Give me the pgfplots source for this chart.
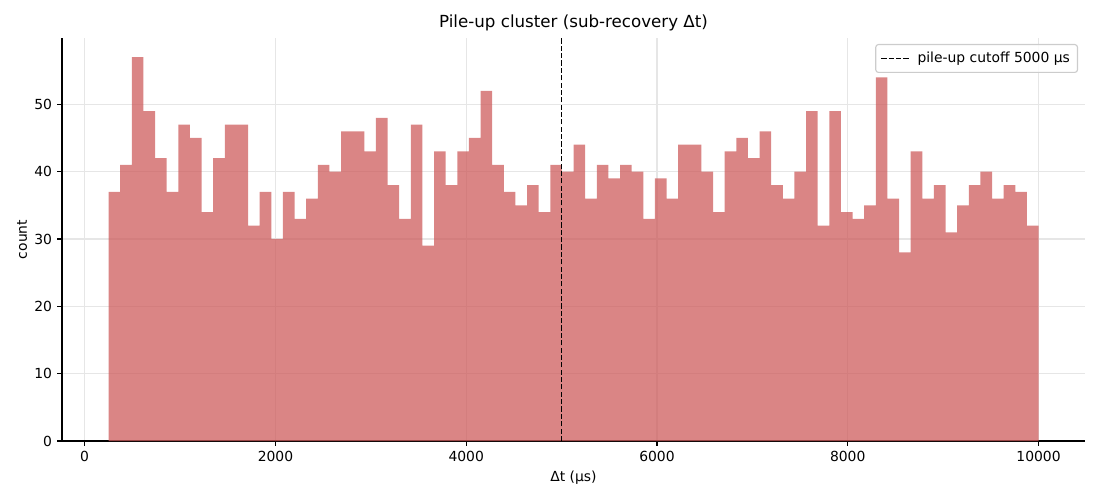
\documentclass[border=0pt]{standalone}
\usepackage{fontspec}
\setmainfont{DejaVu Sans}
\usepackage{pgfplots}
\pgfplotsset{compat=1.18}
\definecolor{barc}{RGB}{205,92,92}
\definecolor{gridc}{RGB}{230,230,230}
\definecolor{legc}{RGB}{204,204,204}
\pgfplotstableread{
x y
250 37
371.875 41
493.75 57
615.625 49
737.5 42
859.375 37
981.25 47
1103.125 45
1225 34
1346.875 42
1468.75 47
1590.625 47
1712.5 32
1834.375 37
1956.25 30
2078.125 37
2200 33
2321.875 36
2443.75 41
2565.625 40
2687.5 46
2809.375 46
2931.25 43
3053.125 48
3175 38
3296.875 33
3418.75 47
3540.625 29
3662.5 43
3784.375 38
3906.25 43
4028.125 45
4150 52
4271.875 41
4393.75 37
4515.625 35
4637.5 38
4759.375 34
4881.25 41
5003.125 40
5125 44
5246.875 36
5368.75 41
5490.625 39
5612.5 41
5734.375 40
5856.25 33
5978.125 39
6100 36
6221.875 44
6343.75 44
6465.625 40
6587.5 34
6709.375 43
6831.25 45
6953.125 42
7075 46
7196.875 38
7318.75 36
7440.625 40
7562.5 49
7684.375 32
7806.25 49
7928.125 34
8050 33
8171.875 35
8293.75 54
8415.625 36
8537.5 28
8659.375 43
8781.25 36
8903.125 38
9025 31
9146.875 35
9268.75 38
9390.625 40
9512.5 36
9634.375 38
9756.25 37
9878.125 32
10000 32
}\histdata
\begin{document}
\begin{tikzpicture}
\path[use as bounding box] (-44.64pt,-42.48pt) rectangle (747.36pt,317.52pt);
\begin{axis}[
  at={(0,0)}, anchor=south west, scale only axis,
  width=736.56pt, height=290.16pt,
  xmin=-237.5, xmax=10487.5, ymin=0, ymax=59.85,
  axis x line*=bottom, axis y line*=left,
  axis line style={-, line width=0.8pt, black},
  xtick={0,2000,4000,6000,8000,10000},
  ytick={0,10,20,30,40,50},
  scaled x ticks=false, scaled y ticks=false,
  tick align=outside, major tick length=3.5pt,
  tick style={line width=0.8pt, black},
  xmajorgrids, ymajorgrids,
  major grid style={gridc, line width=0.8pt},
  /pgf/number format/assume math mode=true,
  /pgf/number format/1000 sep={},
  tick label style={font=\fontsize{10}{12}\selectfont},
  xticklabel style={anchor=north, inner sep=0pt, yshift=-3.5pt},
  yticklabel style={anchor=east, inner sep=0pt, xshift=-3.5pt},
  label style={font=\fontsize{10}{12}\selectfont},
  xlabel={Δt (μs)},
  ylabel={count},
  xlabel style={at={(axis description cs:0.5,-0.0918)}, anchor=center},
  ylabel style={at={(axis description cs:-0.0391,0.5)}, anchor=center},
  every axis title shift=0pt,
  title={Pile-up cluster (sub-recovery Δt)},
  title style={at={(axis description cs:0.5,1.0372)}, anchor=center, font=\fontsize{12}{14}\selectfont},
  legend style={at={(axis description cs:1,1)}, anchor=north east,
    xshift=-5pt, yshift=-4.3pt, draw=legc, rounded corners=2pt,
    fill=white, fill opacity=0.8, text opacity=1, line width=0.8pt,
    font=\fontsize{10}{12}\selectfont, inner xsep=3.5pt, inner ysep=3.5pt,
    /tikz/every odd column/.append style={column sep=2.5pt}},
  legend cell align=left,
  legend image code/.code={\draw[#1] (0pt,0pt) -- (21pt,0pt);},
]
\addplot[const plot mark left, fill=barc, fill opacity=0.75, draw=none, forget plot] table[x=x, y=y] {\histdata} \closedcycle;
\addplot[black, line width=1.1pt, dash pattern=on 3.7pt off 1.6pt] coordinates {(5000,0) (5000,59.85)};
\addlegendentry{pile-up cutoff 5000 μs}
\end{axis}
\end{tikzpicture}
\end{document}
